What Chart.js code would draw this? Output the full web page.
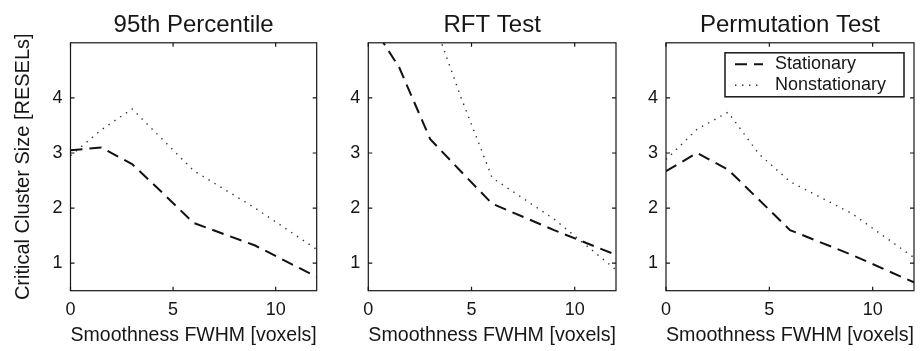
<!DOCTYPE html>
<html>
<head>
<meta charset="utf-8">
<script src="https://cdn.jsdelivr.net/npm/chart.js@4/dist/chart.umd.min.js"></script>
<style>
html, body { margin: 0; padding: 0; background: #fff; }
#wrap { position: relative; width: 923px; height: 351px; }
#wrap canvas { position: absolute; top: 0; }
</style>
</head>
<body>
<div id="wrap">
  <canvas id="c1" width="330" height="351" style="left:0px"></canvas>
  <canvas id="c2" width="300" height="351" style="left:330px"></canvas>
  <canvas id="c3" width="293" height="351" style="left:630px"></canvas>
</div>
<script>
// smoothness values (FWHM, voxels)
const fwhm = [0, 1.5, 3, 4.5, 6, 9, 12];

// 95th percentile
const pctStationary    = [3.05, 3.1, 2.8, 2.27, 1.73, 1.32, 0.75];
const pctNonstationary = [2.95, 3.42, 3.8, 3.24, 2.68, 2.0, 1.25];

// RFT test (nonstationary runs off the top for small FWHM)
const rftStationary    = [5.43, 4.55, 3.25, 2.66, 2.08, 1.6, 1.15];
const rftNonstationary = [null, null, 5.57, 4.0, 2.55, 1.8, 0.88];

// permutation test
const permStationary    = [2.67, 3.0, 2.7, 2.15, 1.6, 1.15, 0.65];
const permNonstationary = [2.88, 3.43, 3.74, 2.98, 2.48, 1.9, 1.1];

const xTicks = [0, 5, 10];
const yTicks = [1, 2, 3, 4];

const ink = '#161616';
Chart.defaults.font.family = "'Liberation Sans', Arial, Helvetica, sans-serif";
Chart.defaults.color = ink;

const toPoints = (ys) => fwhm.map((x, i) => ({ x: x, y: ys[i] }));

// box around the plot, inward tick marks, and the boxed legend
const framePlugin = {
  id: 'frame',
  afterDatasetsDraw(chart, args, opts) {
    const { ctx, chartArea: a, scales } = chart;
    ctx.save();
    ctx.strokeStyle = ink;
    ctx.lineWidth = 1.2;
    ctx.strokeRect(a.left, a.top, a.width, a.height);
    ctx.beginPath();
    xTicks.forEach(v => {
      const px = scales.x.getPixelForValue(v);
      ctx.moveTo(px, a.bottom); ctx.lineTo(px, a.bottom - 4);
      ctx.moveTo(px, a.top); ctx.lineTo(px, a.top + 4);
    });
    yTicks.forEach(v => {
      const py = scales.y.getPixelForValue(v);
      ctx.moveTo(a.left, py); ctx.lineTo(a.left + 4, py);
      ctx.moveTo(a.right, py); ctx.lineTo(a.right - 4, py);
    });
    ctx.stroke();

    if (opts.legend) {
      const w = 179, h = 44;
      const bx = a.right - 10 - w, by = a.top + 10;
      ctx.fillStyle = '#fff';
      ctx.fillRect(bx, by, w, h);
      ctx.lineWidth = 1.5;
      ctx.strokeRect(bx, by, w, h);
      ctx.font = "18px 'Liberation Sans', Arial, sans-serif";
      ctx.textBaseline = 'middle';
      ctx.textAlign = 'left';
      chart.data.datasets.forEach((ds, i) => {
        const cy = by + 11.5 + i * 21;
        ctx.save();
        ctx.strokeStyle = ds.borderColor;
        ctx.lineWidth = ds.borderWidth;
        ctx.setLineDash(ds.borderDash);
        ctx.beginPath();
        ctx.moveTo(bx + 10, cy);
        ctx.lineTo(bx + 38, cy);
        ctx.stroke();
        ctx.restore();
        ctx.fillStyle = ink;
        ctx.fillText(ds.label, bx + 50, cy);
      });
    }
    ctx.restore();
  }
};

function makePanel(id, title, stat, nonstat, yWidth, padRight, showYTitle, showLegend) {
  return new Chart(document.getElementById(id), {
    type: 'line',
    data: {
      datasets: [
        {
          label: 'Stationary',
          data: toPoints(stat),
          borderColor: '#111',
          borderWidth: 2,
          borderDash: [12, 7],
          pointRadius: 0,
          tension: 0,
          fill: false
        },
        {
          label: 'Nonstationary',
          data: toPoints(nonstat),
          borderColor: '#333',
          borderWidth: 1.4,
          borderDash: [1.4, 5.6],
          pointRadius: 0,
          tension: 0,
          fill: false
        }
      ]
    },
    options: {
      responsive: false,
      animation: false,
      events: [],
      layout: { padding: { left: 0, right: padRight, top: 0, bottom: 0 } },
      plugins: {
        legend: { display: false },
        tooltip: { enabled: false },
        title: {
          display: true,
          text: title,
          fullSize: false,
          color: ink,
          font: { size: 24, weight: 'normal' },
          padding: { top: 11, bottom: 3 }
        },
        frame: { legend: showLegend }
      },
      scales: {
        x: {
          type: 'linear',
          min: 0,
          max: 12,
          grid: { display: false, drawTicks: false },
          border: { display: false },
          afterBuildTicks: s => { s.ticks = xTicks.map(v => ({ value: v })); },
          afterFit: s => { s.height = 60.3; },
          ticks: { font: { size: 18 }, color: ink, padding: 9, maxRotation: 0 },
          title: {
            display: true,
            text: 'Smoothness FWHM [voxels]',
            color: ink,
            font: { size: 20 },
            padding: { top: 0, bottom: 4 }
          }
        },
        y: {
          type: 'linear',
          min: 0.5,
          max: 5,
          grid: { display: false, drawTicks: false },
          border: { display: false },
          afterBuildTicks: s => { s.ticks = yTicks.map(v => ({ value: v })); },
          afterFit: s => { s.width = yWidth; },
          ticks: { font: { size: 18 }, color: ink, padding: 8 },
          title: {
            display: showYTitle,
            text: 'Critical Cluster Size [RESELs]',
            color: ink,
            font: { size: 20 },
            padding: { top: 11, bottom: 0 }
          }
        }
      }
    },
    plugins: [framePlugin]
  });
}

makePanel('c1', '95th Percentile', pctStationary, pctNonstationary, 70.5, 13.3, true, false);
makePanel('c2', 'RFT Test', rftStationary, rftNonstationary, 38.3, 14, false, false);
makePanel('c3', 'Permutation Test', permStationary, permNonstationary, 36, 9, false, true);
</script>
</body>
</html>
